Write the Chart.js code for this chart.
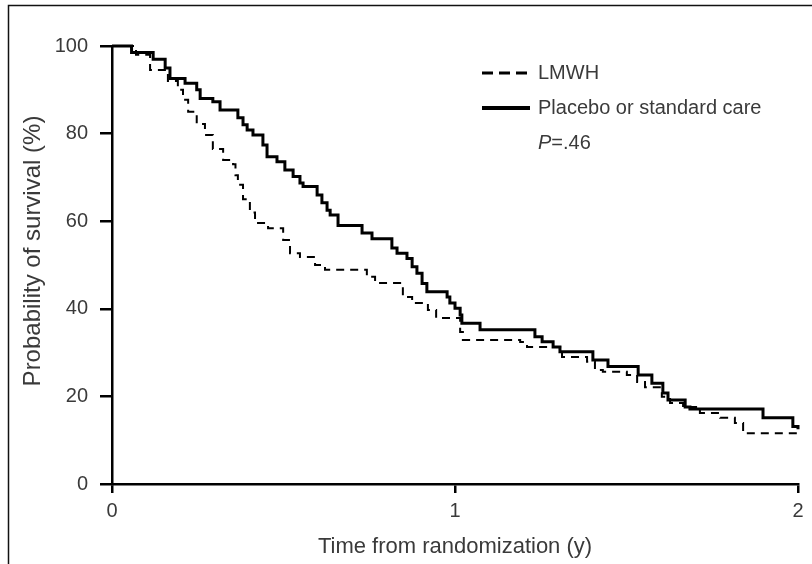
<!DOCTYPE html>
<html>
<head>
<meta charset="utf-8">
<script src="https://cdn.jsdelivr.net/npm/chart.js@4.4.1/dist/chart.umd.min.js"></script>
<style>
    html, body { margin: 0; padding: 0; background: #fff; }
    #wrap { width: 812px; height: 564px; }
</style>
</head>
<body>
<div id="wrap"><canvas id="chartSurvival"></canvas></div>
<script>
// step points: time (years) of each drop and survival (%) after it
const placeboTime = [0, 0.057, 0.12, 0.155, 0.169, 0.213, 0.247, 0.257, 0.294, 0.315, 0.367, 0.382, 0.394, 0.411, 0.44, 0.452, 0.481, 0.504, 0.528, 0.548, 0.557, 0.598, 0.612, 0.627, 0.636, 0.659, 0.729, 0.758, 0.816, 0.831, 0.86, 0.875, 0.889, 0.904, 0.918, 0.977, 0.985, 1.0, 1.015, 1.02, 1.073, 1.233, 1.254, 1.286, 1.306, 1.402, 1.446, 1.534, 1.574, 1.606, 1.621, 1.671, 1.685, 1.898, 1.985, 2.0];
const placeboSurv = [100, 98.5, 97, 95, 92.6, 91.5, 90, 88, 87.3, 85.4, 83.6, 82, 80.8, 79.7, 77.4, 74.7, 73.6, 71.7, 70.2, 68.7, 67.9, 66, 64.2, 62.5, 61.4, 59, 57.3, 56, 53.9, 52.7, 51.5, 49.6, 48.1, 45.8, 43.9, 42.7, 41.3, 40.1, 38.6, 36.7, 35.2, 33.6, 32.5, 31.3, 30.2, 28.3, 26.8, 24.9, 23, 20.8, 19.2, 17.6, 17.1, 15.1, 13.1, 12.5];

const lmwhTime = [0, 0.07, 0.111, 0.163, 0.192, 0.207, 0.222, 0.247, 0.271, 0.294, 0.324, 0.353, 0.36, 0.367, 0.382, 0.402, 0.417, 0.455, 0.499, 0.519, 0.548, 0.592, 0.621, 0.743, 0.767, 0.84, 0.848, 0.875, 0.921, 0.945, 1.015, 1.023, 1.19, 1.21, 1.312, 1.385, 1.408, 1.431, 1.501, 1.531, 1.554, 1.603, 1.627, 1.665, 1.714, 1.773, 1.816, 1.84, 2.0];
const lmwhSurv = [100, 98, 94.5, 92, 90, 87.7, 85, 82.2, 79.7, 76.5, 74, 73, 70.5, 68.3, 65, 62, 59.6, 58.4, 55.7, 52.7, 51.8, 50, 48.9, 47.3, 45.9, 45, 42.7, 41.3, 39.7, 37.9, 34.7, 32.9, 32.4, 31.3, 29, 27.9, 26, 25.6, 24.9, 23.3, 22.1, 19.9, 18.5, 17.6, 16.2, 15.1, 13.9, 11.6, 11.6];

const xTicks = [0, 1, 2];
const yTicks = [0, 20, 40, 60, 80, 100];

const seriesNames = ['LMWH', 'Placebo or standard care'];
const pValueText = '=.46';
const yTitle = 'Probability of survival (%)';

renderSurvival();

function toPoints(times, values) {
    return times.map((t, i) => ({ x: t, y: values[i] }));
}

function renderSurvival() {
    const textColor = '#3a3a3a';
    const fontFamily = '"Liberation Sans", Arial, sans-serif';

    // frame round the figure, y title and the legend inside the plot
    const extras = {
        id: 'extras',
        beforeDraw(chart) {
            const ctx = chart.ctx;
            ctx.save();
            ctx.fillStyle = '#fff';
            ctx.fillRect(0, 0, chart.width, chart.height);
            ctx.strokeStyle = '#111';
            ctx.lineWidth = 1.5;
            ctx.strokeRect(8.5, 5.5, chart.width + 20, chart.height + 20);
            ctx.restore();
        },
        afterDraw(chart) {
            const ctx = chart.ctx;
            const x0 = 482, x1 = 530, tx = 538;
            const rows = [73, 108];
            ctx.save();
            chart.data.datasets.forEach((ds, i) => {
                ctx.beginPath();
                ctx.strokeStyle = '#000';
                ctx.lineWidth = i === 0 ? 3 : 4;
                ctx.setLineDash(i === 0 ? [11, 6] : []);
                ctx.moveTo(x0, rows[i]);
                ctx.lineTo(x1, rows[i]);
                ctx.stroke();
            });
            ctx.setLineDash([]);
            ctx.fillStyle = textColor;
            ctx.textBaseline = 'middle';
            ctx.font = '20px ' + fontFamily;
            ctx.fillText(seriesNames[0], tx, rows[0]);
            ctx.fillText(seriesNames[1], tx, rows[1]);
            ctx.font = 'italic 20px ' + fontFamily;
            ctx.fillText('P', tx, 143);
            const pw = ctx.measureText('P').width;
            ctx.font = '20px ' + fontFamily;
            ctx.fillText(pValueText, tx + pw, 143);

            // y axis title, a bit above the middle of the axis
            ctx.translate(33, 251);
            ctx.rotate(-Math.PI / 2);
            ctx.textAlign = 'center';
            ctx.font = '24px ' + fontFamily;
            ctx.fillText(yTitle, 0, 0);
            ctx.restore();
        }
    };

    const data = {
        datasets: [{
            label: seriesNames[0],
            data: toPoints(lmwhTime, lmwhSurv),
            borderColor: '#000',
            borderWidth: 2,
            borderDash: [8, 6],
            stepped: 'before',
            pointRadius: 0,
            fill: false,
            clip: 4
        }, {
            label: seriesNames[1],
            data: toPoints(placeboTime, placeboSurv),
            borderColor: '#000',
            borderWidth: 3,
            stepped: 'before',
            pointRadius: 0,
            fill: false,
            clip: 4
        }]
    };

    const config = {
        type: 'line',
        data: data,
        options: {
            responsive: true,
            maintainAspectRatio: false,
            animation: false,
            layout: {
                padding: { left: 0, top: 46, right: 14, bottom: 0 }
            },
            scales: {
                x: {
                    type: 'linear',
                    min: 0,
                    max: 2,
                    afterFit: (s) => { s.height = 80; },
                    afterBuildTicks: (s) => { s.ticks = xTicks.map(v => ({ value: v })); },
                    grid: { drawOnChartArea: false, tickLength: 9, color: '#000', lineWidth: 2.5 },
                    border: { color: '#000', width: 2.5 },
                    ticks: { color: textColor, padding: 6, font: { family: fontFamily, size: 20 } },
                    title: {
                        display: true,
                        text: 'Time from randomization (y)',
                        color: textColor,
                        font: { family: fontFamily, size: 22 },
                        padding: { bottom: 4 }
                    }
                },
                y: {
                    min: 0,
                    max: 100,
                    afterFit: (s) => { s.width = 112; },
                    afterBuildTicks: (s) => { s.ticks = yTicks.map(v => ({ value: v })); },
                    grid: { drawOnChartArea: false, tickLength: 12, color: '#000', lineWidth: 2.5 },
                    border: { color: '#000', width: 2.5 },
                    ticks: { color: textColor, padding: 12, font: { family: fontFamily, size: 20 } },
                    title: { display: false }
                }
            },
            plugins: {
                legend: { display: false },
                tooltip: { enabled: false }
            }
        },
        plugins: [extras]
    };

    var myChart = new Chart(
        document.getElementById('chartSurvival'),
        config
    );
}
</script>
</body>
</html>
